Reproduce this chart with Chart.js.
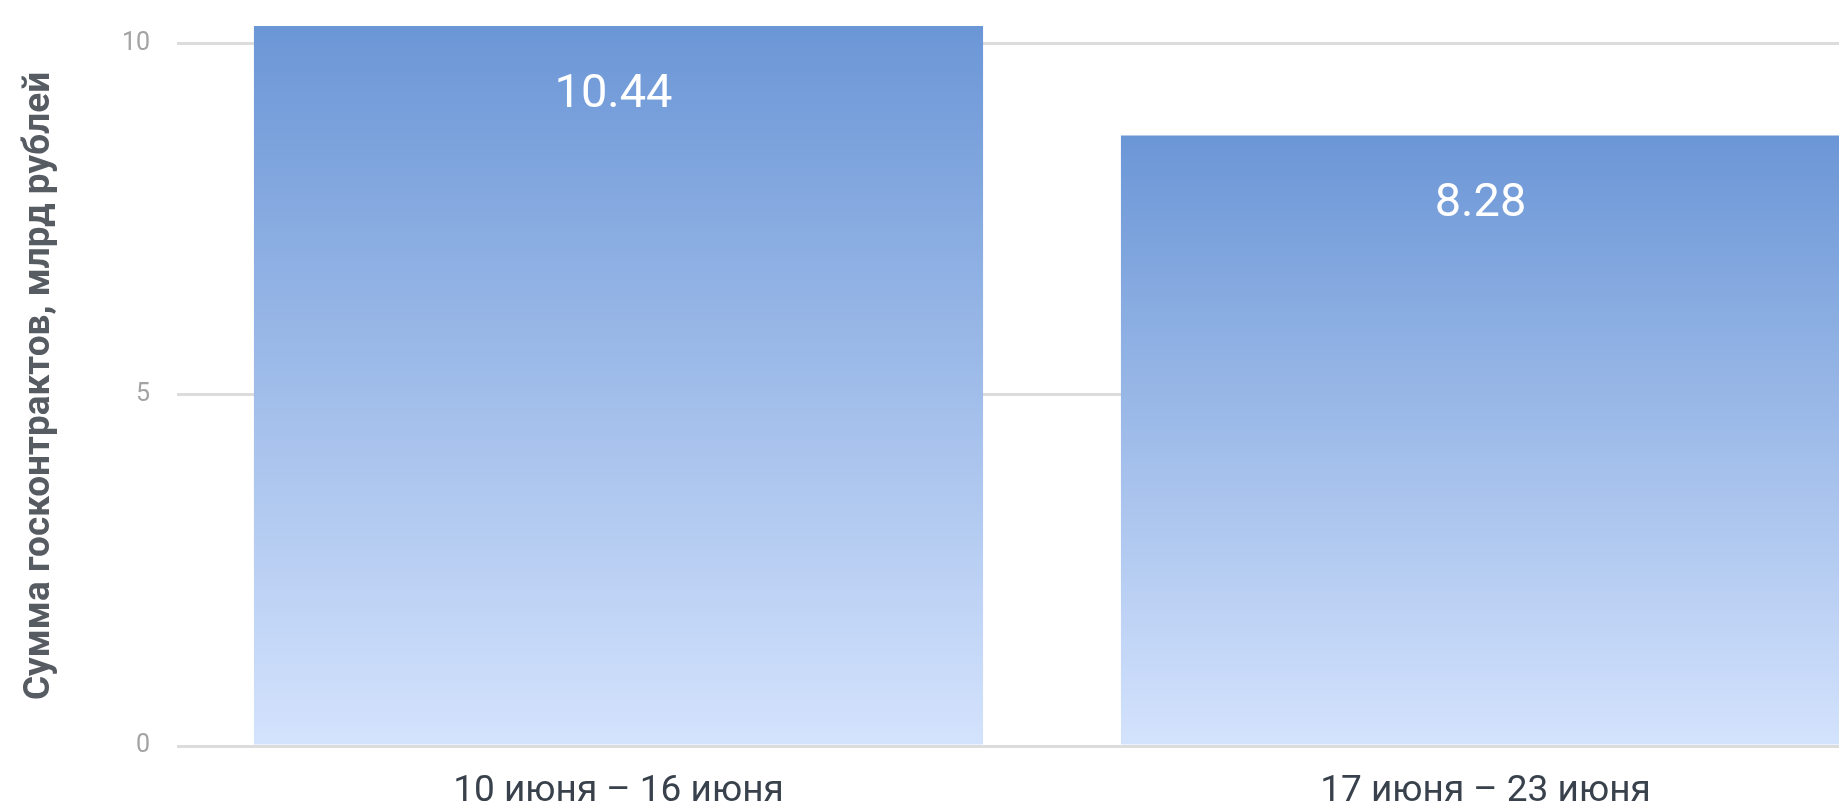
<!DOCTYPE html>
<html>
<head>
<meta charset="utf-8">
<script src="https://cdn.jsdelivr.net/npm/chart.js@4"></script>
<style>
  html, body { margin: 0; padding: 0; background: #fff; overflow: hidden; }
  #wrap { position: absolute; left: 0; top: 0; width: 1920px; height: 837px; }
</style>
</head>
<body>
<div id="wrap"><canvas id="myChart"></canvas></div>
<script>
// weeks and contract sums (bn rub)
let weeks = ['10 июня – 16 июня', '17 июня – 23 июня']
let barHeights = [10.44, 8.69]     // heights as drawn on the axis
let printedValues = ['10.44', '8.28'] // numbers written on the bars
let yTicks = [0, 5, 10]
let yTitle = 'Сумма госконтрактов, млрд рублей'

// vertical gradient per bar, from its (visible) top down to zero
function barGradient(context) {
  let chart = context.chart
  let area = chart.chartArea
  if (!area) return '#6b96d6'
  let yScale = chart.scales.y
  let top = Math.max(yScale.getPixelForValue(barHeights[context.dataIndex]), area.top)
  let g = chart.ctx.createLinearGradient(0, top, 0, area.bottom)
  g.addColorStop(0, '#6b96d6')
  g.addColorStop(1, '#d4e3fd')
  return g
}

// white numbers inside the bars
const valueLabels = {
  id: 'valueLabels',
  afterDatasetsDraw(chart) {
    let ctx = chart.ctx
    let meta = chart.getDatasetMeta(0)
    ctx.save()
    ctx.font = '47px Roboto'
    ctx.fillStyle = '#ffffff'
    ctx.textAlign = 'center'
    ctx.textBaseline = 'middle'
    meta.data.forEach((bar, i) => {
      let top = Math.max(bar.y, chart.chartArea.top)
      ctx.fillText(printedValues[i], bar.x - 5, top + 69)
    })
    ctx.restore()
  }
}

var ctx = document.getElementById('myChart').getContext('2d');
var chart = new Chart(ctx, {
  type: 'bar',
  data: {
    labels: weeks,
    datasets: [{
      label: yTitle,
      data: barHeights,
      backgroundColor: barGradient,
      borderWidth: 0,
      barPercentage: 0.841,
      categoryPercentage: 1
    }]
  },
  options: {
    responsive: true,
    maintainAspectRatio: false,
    animation: false,
    layout: { padding: { top: 26, right: 1, left: 0, bottom: 0 } },
    plugins: {
      legend: { display: false },
      tooltip: { enabled: false }
    },
    scales: {
      x: {
        grid: { display: false, drawTicks: false },
        border: { display: false },
        ticks: {
          color: '#39424c',
          padding: 27,
          maxRotation: 0,
          font: { family: 'Roboto', size: 37, lineHeight: 1 }
        }
      },
      y: {
        min: 0,
        max: 10.25,
        afterFit(scale) {
          scale.width = 185
          scale.paddingTop = 0
        },
        afterBuildTicks(scale) { scale.ticks = yTicks.map(v => ({ value: v })) },
        border: { display: false },
        grid: { color: '#dcdcdc', lineWidth: 3, drawTicks: true, tickLength: 8 },
        ticks: {
          color: '#a3a3a3',
          padding: 27,
          font: { family: 'Roboto', size: 25 }
        },
        title: {
          display: true,
          text: yTitle,
          color: '#575c63',
          padding: { top: 18, bottom: 0 },
          font: { family: 'Roboto', size: 37, weight: 'bold', lineHeight: 1.2 }
        }
      }
    }
  },
  plugins: [valueLabels]
});
</script>
</body>
</html>
